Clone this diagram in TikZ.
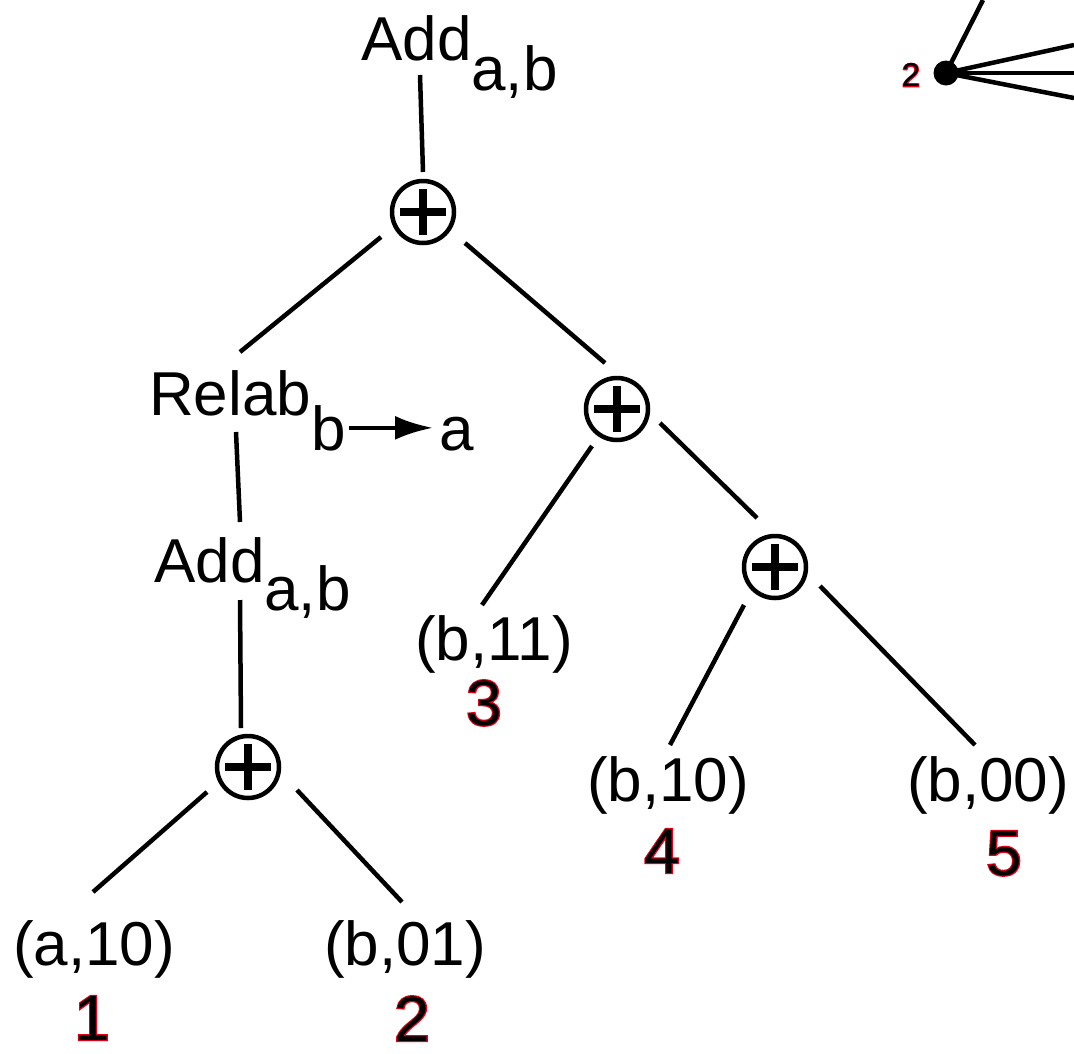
\documentclass[tikz,border=0pt]{standalone}
\usepackage{fontspec}
\setmainfont{Liberation Sans}
\usetikzlibrary{arrows.meta}
\newcommand\rednum[2]{\rlap{\special{pdf:literal direct 0.9 0 0.1 RG 2 Tr #1 w}#2\special{pdf:literal direct 0 Tr 0 0 0 RG}}#2}

\begin{document}
\begin{tikzpicture}[x=1pt, y=-1pt]
	\tikzset{
		lbl/.style={inner sep=0pt, font=\fontsize{62}{70}\selectfont},
		num/.style={inner sep=0pt, anchor=base, font=\fontsize{64}{70}\selectfont},
		edge/.style={line width=4.5pt},
		oplus/.style={circle, draw, line width=4.5pt, minimum size=62pt, inner sep=0pt,
			path picture={
				\draw[line width=8pt] ([xshift=-23pt]path picture bounding box.center) -- ([xshift=23pt]path picture bounding box.center);
				\draw[line width=8pt] ([yshift=-23pt]path picture bounding box.center) -- ([yshift=23pt]path picture bounding box.center);
			}},
		dot/.style={circle, fill, inner sep=0pt, minimum size=25pt}
	}
	\useasboundingbox (0,0) rectangle (1074,1053);

	\node[lbl, anchor=base west] (add1) at (361,60) {Add\lower30pt\hbox{a,b}};
	\node[oplus] (p1) at (423,212) {};
	\node[lbl, anchor=base west] (relab) at (149,415) {Relab};
	\node[lbl, anchor=base west] (relb) at ([yshift=-35pt]relab.base east) {b};
	\node[lbl, anchor=base west] (rela) at (439,450) {a};
	\node[lbl, anchor=base west] (add2) at (154,582) {Add\lower28pt\hbox{a,b}};
	\node[oplus] (p2) at (617,409) {};
	\node[oplus] (p3) at (248,767) {};
	\node[oplus] (p4) at (775,567) {};

	\node[lbl, anchor=base] (a10) at (94,965) {(a,10)};
	\node[lbl, anchor=base] (b01) at (405,965) {(b,01)};
	\node[lbl, anchor=base] (b11) at (494,660) {(b,11)};
	\node[lbl, anchor=base] (b10) at (668,801) {(b,10)};
	\node[lbl, anchor=base] (b00) at (988,801) {(b,00)};

	\node[num] (n1) at (92,1040) {\rednum{2.4}{1}};
	\node[num] (n2) at (412,1041) {\rednum{2.4}{2}};
	\node[num] (n3) at (484,725) {\rednum{2.4}{3}};
	\node[num] (n4) at (662,873) {\rednum{2.4}{4}};
	\node[num] (n5) at (1004,875) {\rednum{2.4}{5}};

	\draw[line width=4.5pt, -{Latex[length=38pt, width=24pt]}] ([xshift=3pt]relb.east) -- ([xshift=-6pt]relb.east -| rela.west);

	\draw[edge] ([shift={(59,15)}]add1.base west) -- ([shift={(0,-40)}]p1.center);
	\draw[edge] ([shift={(-42,25)}]p1.center) -- ([shift={(91,-63)}]relab.base west);
	\draw[edge] ([shift={(42,31)}]p1.center) -- ([shift={(-12,-46)}]p2.center);
	\draw[edge] ([shift={(87,17)}]relab.base west) -- ([shift={(86,-60)}]add2.base west);
	\draw[edge] ([shift={(86,18)}]add2.base west) -- ([shift={(-7,-39)}]p3.center);
	\draw[edge] ([shift={(-41,25)}]p3.center) -- ([shift={(-1,-73)}]a10.base);
	\draw[edge] ([shift={(49,23)}]p3.center) -- ([shift={(-3,-63)}]b01.base);
	\draw[edge] ([shift={(-25,37)}]p2.center) -- ([shift={(-12,-55)}]b11.base);
	\draw[edge] ([shift={(43,14)}]p2.center) -- ([shift={(-18,-49)}]p4.center);
	\draw[edge] ([shift={(-31,38)}]p4.center) -- ([shift={(2,-56)}]b10.base);
	\draw[edge] ([shift={(45,19)}]p4.center) -- ([shift={(-13,-56)}]b00.base);

	\node[dot] (v2) at (946,73) {};
	\node[inner sep=0pt, font=\fontsize{33}{36}\selectfont] (v2lbl) at (911,75) {\rednum{1.6}{2}};
	\foreach \ex/\ey [count=\i] in {983/0, 1074/45, 1074/73, 1074/98}
	{
		\coordinate (out\i) at (\ex,\ey);
		\draw[edge] (v2.center) -- (out\i);
	}
\end{tikzpicture}
\end{document}
